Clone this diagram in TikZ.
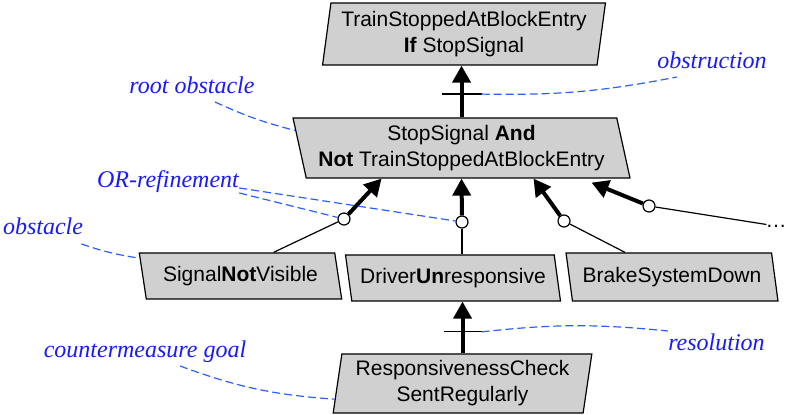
\documentclass[tikz,border=0pt]{standalone}
\usepackage{fontspec}
\setmainfont{Liberation Serif}
\setsansfont{Liberation Sans}
\usetikzlibrary{arrows.meta,shapes.geometric,calc}

\definecolor{boxgray}{RGB}{208,208,208}
\definecolor{noteblue}{RGB}{25,25,255}
\definecolor{dashblue}{RGB}{45,95,255}

\begin{document}
\begin{tikzpicture}[
        x=0.5pt, y=-0.5pt,
        >={Triangle[length=8.5pt,width=9pt]},
        box/.style={trapezium, trapezium stretches=true, draw, line width=0.6pt,
            fill=boxgray, inner sep=1pt, align=center,
            font=\sffamily\fontsize{10.5}{13}\selectfont},
        goal/.style={box, trapezium left angle=81, trapezium right angle=99},
        obstacle/.style={box, trapezium left angle=104, trapezium right angle=76},
        refnode/.style={circle, draw, fill=white, line width=0.6pt, inner sep=0pt, minimum size=6pt},
        refarrow/.style={->, line width=2pt},
        subline/.style={line width=0.6pt},
        note/.style={text=noteblue, font=\itshape\fontsize{12}{14}\selectfont, inner sep=0pt, anchor=base},
        notelink/.style={dashblue, line width=0.6pt, dash pattern=on 4pt off 2pt},
    ]

\useasboundingbox (0,0) rectangle (785,415);

% goals and obstacles
\node[goal, minimum width=141.5pt, minimum height=31pt] (stopgoal) at (464,34)
    {TrainStoppedAtBlockEntry\\\textbf{If} StopSignal};
\node[obstacle, minimum width=168.5pt, minimum height=30pt] (root) at (461.5,148)
    {StopSignal \textbf{And}\\\textbf{Not} TrainStoppedAtBlockEntry};
\node[obstacle, minimum width=101.5pt, minimum height=23pt] (snv) at (240.5,276)
    {Signal\textbf{Not}Visible};
\node[obstacle, minimum width=108pt, minimum height=23pt] (driver) at (453,278)
    {Driver\textbf{Un}responsive};
\node[obstacle, minimum width=107pt, minimum height=24pt] (brake) at (672,277)
    {BrakeSystemDown};
\node[goal, minimum width=129.5pt, minimum height=29.5pt] (resp) at (462.5,383.5)
    {ResponsivenessCheck\\SentRegularly};

% obstruction
\draw[refarrow] (root.north) -- coordinate[pos=.45] (obsmid) (root.north |- stopgoal.south);
\draw[subline] ($(obsmid)+(-20,0)$) -- ($(obsmid)+(20,0)$) coordinate (obstick);

% or-refinements
\node[refnode] (orA) at (344,219) {};
\node[refnode] (orB) at (462,222) {};
\node[refnode] (orC) at (564,221) {};
\node[refnode] (orD) at (649,206) {};
\node[inner xsep=5pt, inner ysep=0pt, font=\sffamily\fontsize{10.5}{13}\selectfont] (more) at (776,226) {\dots};

\draw[refarrow] (orA) -- ($(root.south)+(-80,0)$);
\draw[refarrow] (orB) -- (root.south);
\draw[refarrow] (orC) -- ($(root.south)+(72,0)$);
\draw[refarrow] (orD) -- ($(root.south)+(130,4)$);

\draw[subline] (orA) -- ($(snv.north)+(33,0)$);
\draw[subline] (orB) -- (driver.north -| orB);
\draw[subline] (orC) -- ($(brake.north)+(-47,0)$);
\draw[subline] (orD) -- (more);

% resolution
\draw[refarrow] (resp.north) -- coordinate[pos=.415] (resmid) (resp.north |- driver.south);
\draw[subline] ($(resmid)+(-19,0)$) -- ($(resmid)+(19,0)$) coordinate (restick);

% notes
\node[note] (rootlab) at (192,94) {root obstacle};
\node[note] (orlab) at (168,188) {OR-refinement};
\node[note] (obstaclelab) at (43,235) {obstacle};
\node[note] (cmlab) at (145,358) {countermeasure goal};
\node[note] (obstructlab) at (712,69) {obstruction};
\node[note] (reslab) at (716.5,351) {resolution};

\draw[notelink] ($(rootlab.base)+(23,8)$) to[bend right=5] (root.174);
\draw[notelink] (orlab.base east) -- (orB);
\draw[notelink] ($(orlab.base east)+(0,5)$) -- (orA);
\draw[notelink] ($(obstaclelab.base east)+(-2,9)$) to[bend right=5] (snv.170);
\draw[notelink] ($(cmlab.base)+(35,8)$) to[bend right=8] (resp.187);
\draw[notelink] (obstick) to[bend right=6] ($(obstructlab.base west)+(20,8)$);
\draw[notelink] (restick) to[bend left=6] ($(reslab.base west)+(0,-20)$);

\end{tikzpicture}
\end{document}
